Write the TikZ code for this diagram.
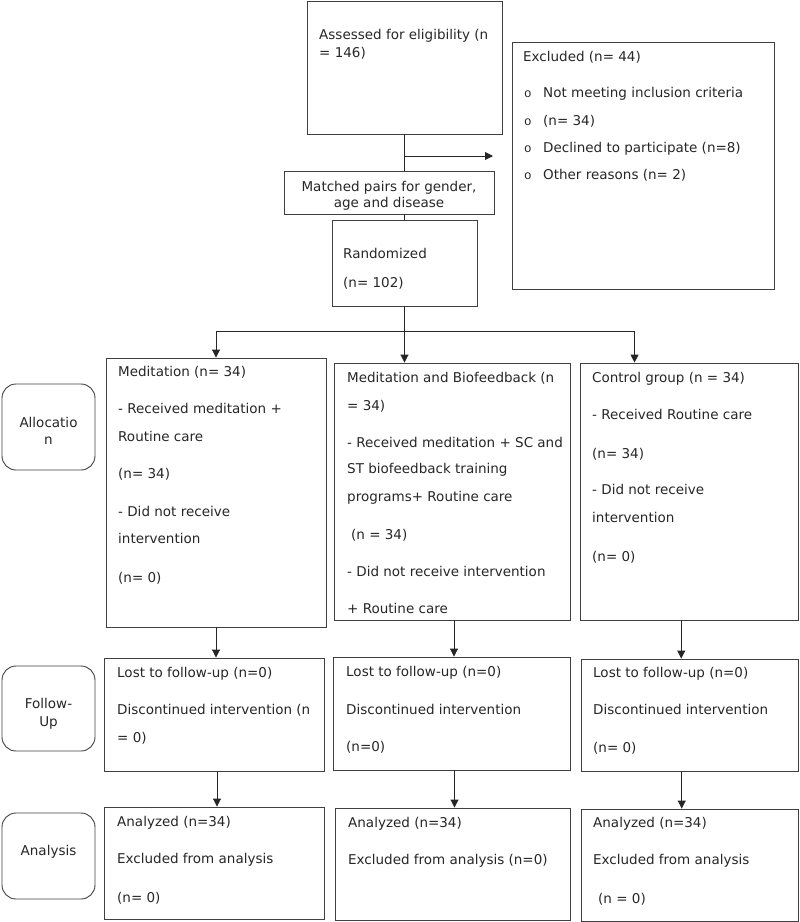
\documentclass[tikz,border=0pt]{standalone}
\usepackage{fontspec}
\setmainfont{DejaVu Sans}
\newfontfamily\bulletfont{Liberation Mono}
\usetikzlibrary{arrows.meta,fit,calc}
\begin{document}
\begin{tikzpicture}[x=1pt,y=-1pt,
  box/.style={draw=black!75,line width=0.9pt,inner sep=0pt,rectangle},
  rbox/.style={box,rounded corners=14pt},
  txt/.style={anchor=base west,inner sep=0pt,text=black!85,font=\fontsize{13.5}{16}\selectfont},
  ctxt/.style={txt,anchor=base},
  bul/.style={anchor=base west,inner sep=0pt,text=black!85,font=\bulletfont\fontsize{12.5}{14}\selectfont},
  conn/.style={draw=black!85,line width=0.9pt},
  arr/.style={conn,-{Triangle[length=8pt,width=8pt]}}]
\useasboundingbox (0,0) rectangle (800,922);
% boxes
\node[box,fit={(307,1) (502,134)}] (assess) {};
\node[box,fit={(512,42) (774,289)}] (excl) {};
\node[box,fit={(284,171) (494,214)}] (match) {};
\node[box,fit={(332,220) (477,306)}] (rand) {};
\node[box,fit={(106,358) (326,627)}] (med) {};
\node[box,fit={(334,363) (570,620)}] (mb) {};
\node[box,fit={(580,363) (798.5,620)}] (ctrl) {};
\node[rbox,fit={(2,384) (95,470)}] (alloc) {};
\node[box,fit={(104,658) (324,771)}] (medfu) {};
\node[box,fit={(333,657) (570,770)}] (mbfu) {};
\node[box,fit={(581,659) (798.5,771)}] (ctrlfu) {};
\node[rbox,fit={(2,666) (95,751)}] (fulab) {};
\node[box,fit={(104,807) (324,919)}] (medan) {};
\node[box,fit={(335,808) (570,920)}] (mban) {};
\node[box,fit={(581,809) (798.5,921)}] (ctrlan) {};
\node[rbox,fit={(2,813) (95,899)}] (anlab) {};
% texts
\node[txt] (a1) at (319,39) {Assessed for eligibility (n};
\node[txt] (a2) at (319,57) {= 146)};
\node[txt] (e0) at (523,61) {Excluded (n= 44)};
\node[bul] (b1) at (524,97) {o};
\node[bul] (b2) at (524,125) {o};
\node[bul] (b3) at (524,152) {o};
\node[bul] (b4) at (524,179) {o};
\node[txt] (e1) at (543,97) {Not meeting inclusion criteria};
\node[txt] (e2) at (543,125) {(n= 34)};
\node[txt] (e3) at (543,152) {Declined to participate (n=8)};
\node[txt] (e4) at (543,179) {Other reasons (n= 2)};
\node[ctxt] (m1) at (389,191) {Matched pairs for gender,};
\node[ctxt] (m2) at (389,207) {age and disease};
\node[txt] (r1) at (343,258) {Randomized};
\node[txt] (r2) at (343,287) {(n= 102)};
\node[ctxt] (l1) at (48.5,427) {Allocatio};
\node[ctxt] (l2) at (48.5,444) {n};
\node[ctxt] (l3) at (48.5,708) {Follow-};
\node[ctxt] (l4) at (48.5,726) {Up};
\node[ctxt] (l5) at (48.5,855) {Analysis};
% meditation
\node[txt] (d1) at (118,376) {Meditation (n= 34)};
\node[txt] (d2) at (118,413) {- Received meditation +};
\node[txt] (d3) at (118,441) {Routine care};
\node[txt] (d4) at (118,478) {(n= 34)};
\node[txt] (d5) at (118,516) {- Did not receive};
\node[txt] (d6) at (118,543) {intervention};
\node[txt] (d7) at (118,582) {(n= 0)};
% meditation and biofeedback
\node[txt] (g1) at (347,382) {Meditation and Biofeedback (n};
\node[txt] (g2) at (347,410) {= 34)};
\node[txt] (g3) at (347,447) {- Received meditation + SC and};
\node[txt] (g4) at (347,473) {ST biofeedback training};
\node[txt] (g5) at (347,501) {programs+ Routine care};
\node[txt] (g6) at (351,539) {(n = 34)};
\node[txt] (g7) at (347,576) {- Did not receive intervention};
\node[txt] (g8) at (347,613) {+ Routine care};
% control
\node[txt] (c1) at (592,382) {Control group (n = 34)};
\node[txt] (c2) at (592,419) {- Received Routine care};
\node[txt] (c3) at (592,458) {(n= 34)};
\node[txt] (c4) at (592,494) {- Did not receive};
\node[txt] (c5) at (592,522) {intervention};
\node[txt] (c6) at (592,561) {(n= 0)};
% follow-up
\node[txt] (f1) at (117,677) {Lost to follow-up (n=0)};
\node[txt] (f2) at (117,714) {Discontinued intervention (n};
\node[txt] (f3) at (117,742) {= 0)};
\node[txt] (f4) at (346,676) {Lost to follow-up (n=0)};
\node[txt] (f5) at (346,714) {Discontinued intervention};
\node[txt] (f6) at (346,751) {(n=0)};
\node[txt] (f7) at (593,677) {Lost to follow-up (n=0)};
\node[txt] (f8) at (593,714) {Discontinued intervention};
\node[txt] (f9) at (593,752) {(n= 0)};
% analysis
\node[txt] (n1) at (117,826) {Analyzed (n=34)};
\node[txt] (n2) at (117,863) {Excluded from analysis};
\node[txt] (n3) at (117,902) {(n= 0)};
\node[txt] (n4) at (348,827) {Analyzed (n=34)};
\node[txt] (n5) at (348,864) {Excluded from analysis (n=0)};
\node[txt] (n6) at (593,827) {Analyzed (n=34)};
\node[txt] (n7) at (593,864) {Excluded from analysis};
\node[txt] (n8) at (598,903) {(n = 0)};
% connectors
\coordinate (exarr) at (493,156);
\coordinate (hb) at (404,331);
\draw[conn] (assess.south) -- (assess.south |- match.north);
\draw[arr] (assess.south |- exarr) -- (exarr);
\draw[conn] (rand.north) -- (rand.north |- match.south);
\draw[arr] (rand.south) -- (rand.south |- mb.north);
\draw[arr] (hb) -| (med.north);
\draw[arr] (hb) -| ($(ctrl.north west)+(55,0)$);
\draw[arr] (med.south) -- (med.south |- medfu.north);
\draw[arr] ([xshift=2pt]mb.south) -- ([xshift=2pt]mb.south |- mbfu.north);
\draw[arr] ([xshift=-8pt]ctrl.south) -- ([xshift=-8pt]ctrl.south |- ctrlfu.north);
\draw[arr] ([xshift=3pt]medfu.south) -- ([xshift=3pt]medfu.south |- medan.north);
\draw[arr] ([xshift=3pt]mbfu.south) -- ([xshift=3pt]mbfu.south |- mban.north);
\draw[arr] ([xshift=-8pt]ctrlfu.south) -- ([xshift=-8pt]ctrlfu.south |- ctrlan.north);
\end{tikzpicture}
\end{document}
